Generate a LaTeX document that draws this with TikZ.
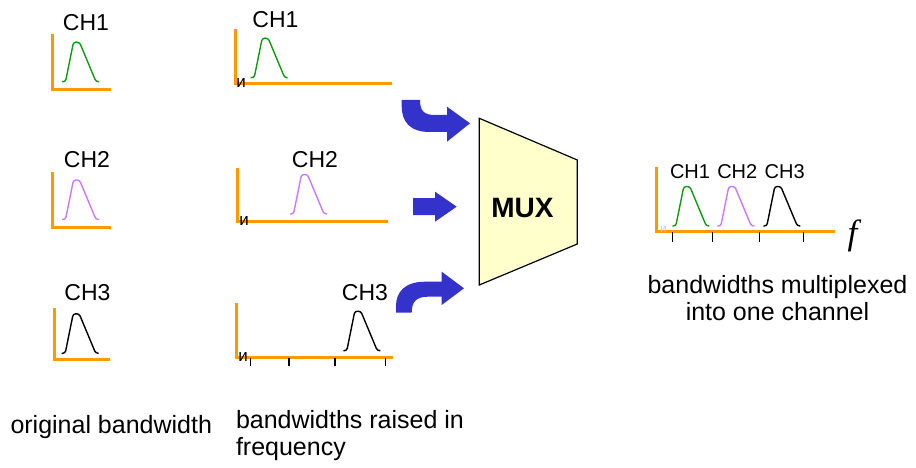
\documentclass[tikz,border=0pt]{standalone}
\usepackage{fontspec}
\setmainfont{Liberation Sans}
\newfontfamily\timesf{Liberation Serif}
\definecolor{axisorange}{RGB}{255,153,0}
\definecolor{chgreen}{RGB}{17,153,17}
\definecolor{chpurple}{RGB}{204,119,255}
\definecolor{arrowblue}{RGB}{51,51,204}
\definecolor{muxfill}{RGB}{255,255,204}
\definecolor{marklav}{RGB}{200,200,240}
\tikzset{
  axisline/.style={draw=axisorange,line width=3pt},
  tickline/.style={draw=black,line width=1.2pt},
  chlabel/.style={inner sep=0pt,font=\fontsize{23}{23}\selectfont},
  chsmall/.style={inner sep=0pt,font=\fontsize{20}{20}\selectfont},
  caption/.style={inner sep=0pt,font=\fontsize{25}{26.7}\selectfont},
  blockarrow/.style={fill=arrowblue},
  markchar/.style={inner sep=0pt,font=\fontsize{17}{17}\selectfont},
  pics/pulse/.style={code={\draw[rounded corners=2.5pt,line width=1.4pt,draw=#1] (0,0) -- (3.5,0) -- (11.5,-39.5) -- (17.5,-39.5) -- (34,0) -- (37,0);}},
}
\begin{document}
\begin{tikzpicture}[x=1pt,y=-1pt]
\useasboundingbox (0,0) rectangle (916,468);
% ---------- left column ----------
\draw[axisline] (52.7,34) -- (52.7,89.3) -- (111,89.3);
\pic at (62,81.7) {pulse=chgreen};
\node[chlabel] (l1) at (86,23) {CH1};
\draw[axisline] (52.7,172) -- (52.7,227.5) -- (111,227.5);
\pic at (62,219.5) {pulse=chpurple};
\node[chlabel] (l2) at (87,160) {CH2};
\draw[axisline] (54,307.7) -- (54,359.5) -- (110,359.5);
\pic at (61.7,353.3) {pulse=black};
\node[chlabel] (l3) at (87.5,293) {CH3};
% ---------- middle column ----------
\draw[axisline] (235,29) -- (235,83.3) -- (391.7,83.3);
\pic at (250.7,77.7) {pulse=chgreen};
\node[chlabel] (m1) at (275.5,20) {CH1};
\node[markchar] (k1) at (241,83) {и};
\draw[axisline] (237,167.7) -- (237,221) -- (388,221);
\pic at (290,214) {pulse=chpurple};
\node[chlabel] (m2) at (315,160) {CH2};
\node[markchar] (k2) at (244,221) {и};
\draw[axisline] (236,302.7) -- (236,357.7) -- (393,357.7);
\foreach \t in {250.7,289,335,385.7} \draw[tickline] (\t,357.7) -- (\t,366);
\pic at (343.3,350.7) {pulse=black};
\node[chlabel] (m3) at (365,292.5) {CH3};
\node[markchar] (k3) at (243,357) {и};
% ---------- arrows ----------
\fill[blockarrow] (401.7,100) -- (420,100) .. controls (420,111) and (424,115) .. (435,115) -- (447,115) -- (447,106.7) -- (470,123.3) -- (447,141.7) -- (447,132) -- (430,132) .. controls (410,132) and (401.7,122) .. (401.7,106) -- cycle;
\fill[blockarrow] (413,198) -- (435,198) -- (435,191.7) -- (456.7,206.7) -- (435,221.7) -- (435,215) -- (413,215) -- cycle;
\fill[blockarrow] (396,312.7) -- (411.7,312.7) .. controls (411.7,302) and (416,296.7) .. (428,296.7) -- (441.7,296.7) -- (441.7,305) -- (464,288.3) -- (441.7,271.7) -- (441.7,281.7) -- (425,281.7) .. controls (405,281.7) and (396,292) .. (396,306) -- cycle;
% ---------- MUX ----------
\draw[fill=muxfill,line width=1.2pt,line join=miter] (479.3,118.3) -- (577.3,160) -- (577.3,244) -- (479.3,285) -- cycle;
\node[inner sep=0pt,font=\bfseries\fontsize{28}{28}\selectfont] (mux) at (522.5,208.3) {MUX};
% ---------- right plot ----------
\draw[axisline] (656,166.7) -- (656,231.7) -- (835,231.7);
\foreach \t in {672.7,712.7,759.3,803.3} \draw[tickline] (\t,232) -- (\t,241.7);
\pic at (672.3,226) {pulse=chgreen};
\pic at (717.3,226) {pulse=chpurple};
\pic at (763.3,226) {pulse=black};
\node[chsmall] (r1) at (690,171.7) {CH1};
\node[chsmall] (r2) at (737.3,171.7) {CH2};
\node[chsmall] (r3) at (784.7,171.7) {CH3};
\node[inner sep=0pt,text=marklav,font=\fontsize{12}{12}\selectfont] (k4) at (663.5,229) {и};
\node[inner sep=0pt,anchor=base,font=\timesf\itshape\fontsize{35}{35}\selectfont] (f) at (852.5,244.5) {f};
% ---------- captions ----------
\node[caption,anchor=base west] (c1) at (10.3,433.3) {original bandwidth};
\node[caption,anchor=base west,align=left] (c2) at (235.8,455) {bandwidths raised in\\frequency};
\node[caption,anchor=base,align=center] (c3) at (777.5,320) {bandwidths multiplexed\\into one channel};
\end{tikzpicture}
\end{document}
